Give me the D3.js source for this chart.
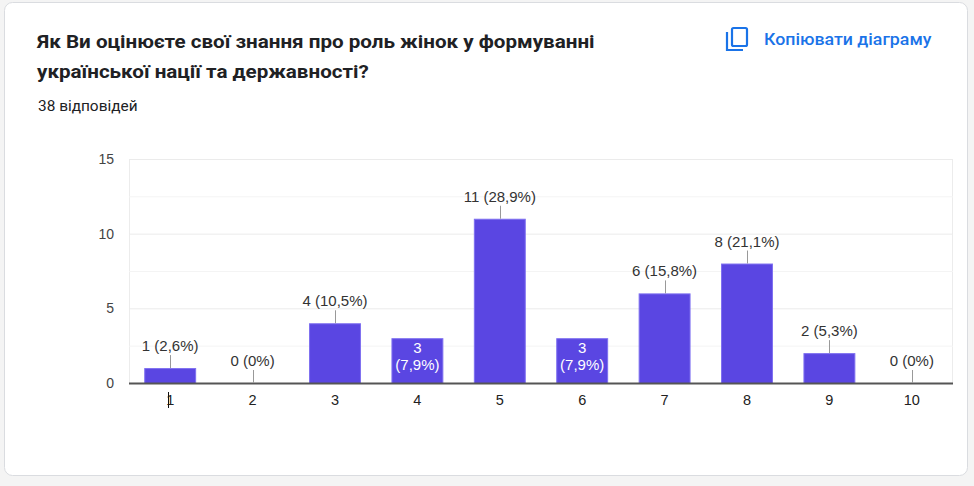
<!DOCTYPE html>
<html>
<head>
<meta charset="utf-8">
<script src="https://cdn.jsdelivr.net/npm/d3@7"></script>
<style>
  html, body { margin: 0; padding: 0; background: #f4f4f4; }
  svg { display: block; }
</style>
</head>
<body>
<svg id="chart"></svg>
<script>
let categories = ["1", "2", "3", "4", "5", "6", "7", "8", "9", "10"];
let counts = [1, 0, 4, 3, 11, 3, 6, 8, 2, 0];
let yTicks = [0, 5, 10, 15];
let minorTicks = [2.5, 7.5, 12.5];
let insideLabels = ["4", "6"];
let titleLines = ["Як Ви оцінюєте свої знання про роль жінок у формуванні",
                  "української нації та державності?"];
let subtitle = "38 відповідей";
let copyText = "Копіювати діаграму";

function getConfig(){
    let width = 974;
    let height = 486;
    let plot = { left: 129, right: 953, top: 159, bottom: 383 };
    let svg = d3.select("#chart")
        .attr("width", width)
        .attr("height", height);
    return { width, height, plot, svg };
}

function getScales(config){
    let { plot } = config;
    let xScale = d3.scaleBand()
        .domain(categories)
        .range([plot.left, plot.right])
        .paddingInner(0.37)
        .paddingOuter(0.185);
    let yScale = d3.scaleLinear()
        .domain([0, 15])
        .range([plot.bottom, plot.top]);
    return { xScale, yScale };
}

// the header font in the picture is a bit wider than Roboto
function widen(sel, k){
    sel.each(function(){
        let w = this.getComputedTextLength();
        d3.select(this)
            .attr("textLength", w * k)
            .attr("lengthAdjust", "spacingAndGlyphs");
    });
}

function drawCard(config){
    let { svg } = config;
    svg.append("rect")
        .attr("x", 4.5).attr("y", 2.5)
        .attr("width", 963).attr("height", 473)
        .attr("rx", 8)
        .attr("fill", "#fff")
        .attr("stroke", "#dadce0");

    let title = svg.append("g")
        .attr("font-family", "Roboto, sans-serif")
        .attr("font-weight", 700)
        .attr("font-size", "18px")
        .attr("fill", "#202124");
    title.selectAll("text").data(titleLines).join("text")
        .attr("x", 37)
        .attr("y", (d, i) => 48 + i * 30)
        .text(d => d)
        .call(widen, 1.145);

    svg.append("text")
        .attr("x", 38).attr("y", 111)
        .attr("font-family", "Roboto, sans-serif")
        .attr("font-size", "14px")
        .attr("fill", "#202124")
        .text(subtitle)
        .call(widen, 1.1);

    // copy icon
    let icon = svg.append("g")
        .attr("fill", "none")
        .attr("stroke", "#1a73e8")
        .attr("stroke-width", 2.2);
    icon.append("rect")
        .attr("x", 732).attr("y", 28)
        .attr("width", 15).attr("height", 18)
        .attr("rx", 1.5);
    icon.append("path")
        .attr("d", "M727,32 V50 H743");

    svg.append("text")
        .attr("x", 764).attr("y", 45)
        .attr("font-family", "Roboto, sans-serif")
        .attr("font-weight", 500)
        .attr("font-size", "16px")
        .attr("fill", "#1a73e8")
        .text(copyText)
        .call(widen, 1.11);
}

function drawChart(config, scales){
    let { svg, plot } = config;
    let { xScale, yScale } = scales;
    let total = d3.sum(counts);
    let data = categories.map((c, i) => ({ cat: c, value: counts[i] }));
    let pct = v => v === 0 ? "0%" : d3.format(".1f")(v * 100 / total).replace(".", ",") + "%";
    let font = "'Liberation Sans', Arial, sans-serif";

    // frame + gridlines
    svg.append("rect")
        .attr("x", plot.left + 0.5).attr("y", plot.top + 0.5)
        .attr("width", plot.right - plot.left - 1)
        .attr("height", plot.bottom - plot.top)
        .attr("fill", "none")
        .attr("stroke", "#ececec");
    svg.append("g").selectAll("line").data(minorTicks).join("line")
        .attr("x1", plot.left).attr("x2", plot.right)
        .attr("y1", d => yScale(d) + 0.5).attr("y2", d => yScale(d) + 0.5)
        .attr("stroke", "#f4f4f4");
    svg.append("g").selectAll("line").data(yTicks.slice(1)).join("line")
        .attr("x1", plot.left).attr("x2", plot.right)
        .attr("y1", d => yScale(d) + 0.5).attr("y2", d => yScale(d) + 0.5)
        .attr("stroke", "#ebebeb");

    // y labels
    svg.append("g").selectAll("text").data(yTicks).join("text")
        .attr("x", 114)
        .attr("y", d => yScale(d))
        .attr("dy", "0.36em")
        .attr("text-anchor", "end")
        .attr("font-family", font)
        .attr("font-size", "14px")
        .attr("fill", "#444")
        .text(d => d);

    // bars
    svg.append("g").selectAll("rect").data(data).join("rect")
        .attr("x", d => xScale(d.cat) + 0.5)
        .attr("y", d => yScale(d.value) + 0.5)
        .attr("width", xScale.bandwidth() - 1)
        .attr("height", d => Math.max(0, yScale(0) - yScale(d.value)))
        .attr("fill", "#5a46e2")
        .attr("stroke", "#7e6ff0")
        .attr("stroke-width", 1);

    // baseline
    svg.append("line")
        .attr("x1", plot.left).attr("x2", plot.right)
        .attr("y1", yScale(0) + 0.5).attr("y2", yScale(0) + 0.5)
        .attr("stroke", "#555")
        .attr("stroke-width", 2);

    // outside labels
    let outside = data.filter(d => !insideLabels.includes(d.cat));
    let cx = d => xScale(d.cat) + xScale.bandwidth() / 2;
    svg.append("g").selectAll("line").data(outside).join("line")
        .attr("x1", d => Math.round(cx(d)) + 0.5).attr("x2", d => Math.round(cx(d)) + 0.5)
        .attr("y1", d => yScale(d.value))
        .attr("y2", d => yScale(d.value) - 13)
        .attr("stroke", "#999");
    svg.append("g").selectAll("text").data(outside).join("text")
        .attr("x", cx)
        .attr("y", d => yScale(d.value) - 17)
        .attr("text-anchor", "middle")
        .attr("font-family", font)
        .attr("font-size", "15px")
        .attr("fill", "#333")
        .text(d => d.value + " (" + pct(d.value) + ")");

    // inside labels
    let inside = data.filter(d => insideLabels.includes(d.cat));
    let inner = svg.append("g").selectAll("text").data(inside).join("text")
        .attr("text-anchor", "middle")
        .attr("font-family", font)
        .attr("font-size", "15px")
        .attr("fill", "#fff");
    inner.append("tspan")
        .attr("x", cx).attr("y", d => yScale(d.value) + 15)
        .text(d => d.value);
    inner.append("tspan")
        .attr("x", cx).attr("y", d => yScale(d.value) + 32)
        .text(d => "(" + pct(d.value) + ")");

    // x labels
    svg.append("g").selectAll("text").data(data).join("text")
        .attr("x", cx)
        .attr("y", 405)
        .attr("text-anchor", "middle")
        .attr("font-family", font)
        .attr("font-size", "14.5px")
        .attr("fill", "#222")
        .text(d => d.cat);

    // text cursor seen next to the first label
    svg.append("line")
        .attr("x1", 168.5).attr("x2", 168.5)
        .attr("y1", 392).attr("y2", 408)
        .attr("stroke", "#111");
}

let config = getConfig();
let scales = getScales(config);
drawCard(config);
drawChart(config, scales);
</script>
</body>
</html>
